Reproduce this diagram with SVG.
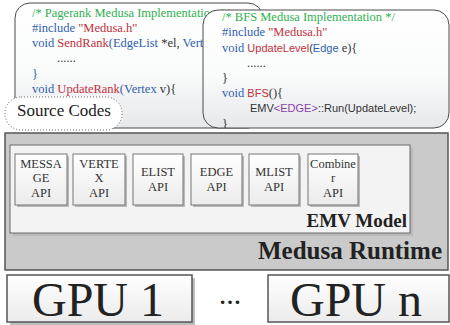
<svg xmlns="http://www.w3.org/2000/svg" width="450" height="325" viewBox="0 0 450 325">
<defs>
<linearGradient id="gCode" x1="0" y1="0" x2="0" y2="1"><stop offset="0" stop-color="#ffffff"/><stop offset="0.55" stop-color="#fafbfb"/><stop offset="1" stop-color="#e6e8ea"/></linearGradient>
<linearGradient id="gBox" x1="0" y1="0" x2="0" y2="1"><stop offset="0" stop-color="#ffffff"/><stop offset="1" stop-color="#ebebeb"/></linearGradient>
<clipPath id="clipBfs"><rect x="203" y="10" width="246" height="118" rx="15"/></clipPath>
</defs>
<style>
.code{font-family:"Liberation Serif","Times New Roman",serif;font-size:12.5px;fill:#333}
.sans{font-family:"Liberation Sans",Arial,sans-serif;font-size:11px}
.gr{fill:#2fb04f}.bl{fill:#2f5fae}.rd{fill:#c22f3c}.pu{fill:#8a3fa8}.dk{fill:#333}
.codebox{fill:url(#gCode);stroke:#4a4a4a;stroke-width:1}
.api{fill:url(#gBox);stroke:#777;stroke-width:1}
.shadow{fill:#b9b9b9}
.apitxt{font-family:"Liberation Serif","Times New Roman",serif;font-size:12.5px;fill:#333;text-anchor:middle}
.gpu{fill:url(#gBox);stroke:#555;stroke-width:1.5}
.gputxt{font-family:"Liberation Serif","Times New Roman",serif;font-size:48px;fill:#222;text-anchor:middle}
.bold{font-family:"Liberation Serif","Times New Roman",serif;font-weight:bold;fill:#222;text-anchor:end}
</style>

<g id="code-pagerank">
<rect class="codebox" x="15" y="3" width="248" height="125" rx="15"/>
<text class="code" x="32" y="17"><tspan class="gr">/* Pagerank Medusa Implementation */</tspan></text>
<text class="code" x="32" y="32"><tspan class="bl">#include</tspan> <tspan class="rd">"Medusa.h"</tspan></text>
<text class="code" x="32" y="47"><tspan class="bl">void</tspan> <tspan class="rd">SendRank</tspan><tspan class="bl">(EdgeList</tspan> *el, <tspan class="bl">Vert</tspan></text>
<text class="code" x="57" y="62">......</text>
<text class="code bl" x="32" y="78">}</text>
<text class="code" x="32" y="93"><tspan class="bl">void</tspan> <tspan class="rd">UpdateRank</tspan><tspan class="bl">(Vertex</tspan> v){</text>
</g>

<g id="code-bfs">
<rect class="codebox" x="203" y="10" width="246" height="118" rx="15"/>
<g clip-path="url(#clipBfs)">
<text class="code" x="222" y="21"><tspan class="gr">/* BFS Medusa Implementation */</tspan></text>
<text class="code" x="222" y="36"><tspan class="bl">#include</tspan> <tspan class="rd">"Medusa.h"</tspan></text>
<text class="code" x="222" y="52"><tspan class="bl">void</tspan> <tspan class="sans rd">UpdateLevel</tspan><tspan class="sans dk">(</tspan><tspan class="sans bl">Edge</tspan> e){</text>
<text class="code" x="247" y="67">......</text>
<text class="code" x="222" y="82">}</text>
<text class="code" x="222" y="97"><tspan class="bl">void</tspan> <tspan class="sans rd">BFS</tspan>(){</text>
<text class="sans dk" x="250" y="112">EMV<tspan class="pu">&lt;EDGE&gt;</tspan>::Run(UpdateLevel);</text>
<text class="code" x="222" y="128">}</text>
</g>
</g>

<g id="source-codes">
<rect x="5" y="97" width="117" height="33" rx="16" fill="#ffffff" stroke="#666" stroke-width="1" stroke-dasharray="1 2"/>
<text x="17" y="116" font-family="'Liberation Serif','Times New Roman',serif" font-size="17" fill="#222">Source Codes</text>
</g>

<g id="medusa-runtime">
<rect x="5" y="133" width="443" height="137" fill="#cacaca" stroke="#555" stroke-width="1.5"/>
<text class="bold" x="442" y="259" font-size="25">Medusa Runtime</text>
</g>

<g id="emv-model">
<rect class="shadow" x="13" y="148" width="400" height="88"/>
<rect x="10" y="145" width="400" height="88" fill="#f3f3f3" stroke="#6a6a6a" stroke-width="1"/>
<text class="bold" x="407" y="227" font-size="19">EMV Model</text>
</g>

<g id="api-message">
<rect class="shadow" x="17" y="156" width="52" height="51"/>
<rect class="api" x="15" y="154" width="52" height="51"/>
<text class="apitxt" x="41" y="168">MESSA</text><text class="apitxt" x="41" y="182">GE</text><text class="apitxt" x="41" y="197">API</text>
</g>
<g id="api-vertex">
<rect class="shadow" x="75" y="156" width="52" height="51"/>
<rect class="api" x="73" y="154" width="52" height="51"/>
<text class="apitxt" x="99" y="168">VERTE</text><text class="apitxt" x="99" y="182">X</text><text class="apitxt" x="99" y="197">API</text>
</g>
<g id="api-elist">
<rect class="shadow" x="135" y="156" width="50" height="51"/>
<rect class="api" x="133" y="154" width="50" height="51"/>
<text class="apitxt" x="158" y="176">ELIST</text><text class="apitxt" x="158" y="191">API</text>
</g>
<g id="api-edge">
<rect class="shadow" x="193" y="156" width="51" height="51"/>
<rect class="api" x="191" y="154" width="51" height="51"/>
<text class="apitxt" x="216.5" y="176">EDGE</text><text class="apitxt" x="216.5" y="191">API</text>
</g>
<g id="api-mlist">
<rect class="shadow" x="251" y="156" width="50" height="51"/>
<rect class="api" x="249" y="154" width="50" height="51"/>
<text class="apitxt" x="274" y="176">MLIST</text><text class="apitxt" x="274" y="191">API</text>
</g>
<g id="api-combiner">
<rect class="shadow" x="310" y="156" width="50" height="51"/>
<rect class="api" x="308" y="154" width="50" height="51"/>
<text class="apitxt" x="333" y="168">Combine</text><text class="apitxt" x="333" y="182">r</text><text class="apitxt" x="333" y="197">API</text>
</g>

<g id="gpu-1">
<rect x="10" y="278" width="185" height="47" fill="#bdbdbd"/>
<rect class="gpu" x="7" y="275" width="185" height="47"/>
<text class="gputxt" x="98" y="316">GPU 1</text>
</g>
<g id="ellipsis">
<text x="230" y="304" font-family="'Liberation Serif','Times New Roman',serif" font-size="22" font-weight="bold" fill="#222" text-anchor="middle">…</text>
</g>
<g id="gpu-n">
<rect class="gpu" x="268" y="275" width="181" height="47"/>
<text class="gputxt" x="356" y="316">GPU n</text>
</g>

<g id="connectors"/>
</svg>
